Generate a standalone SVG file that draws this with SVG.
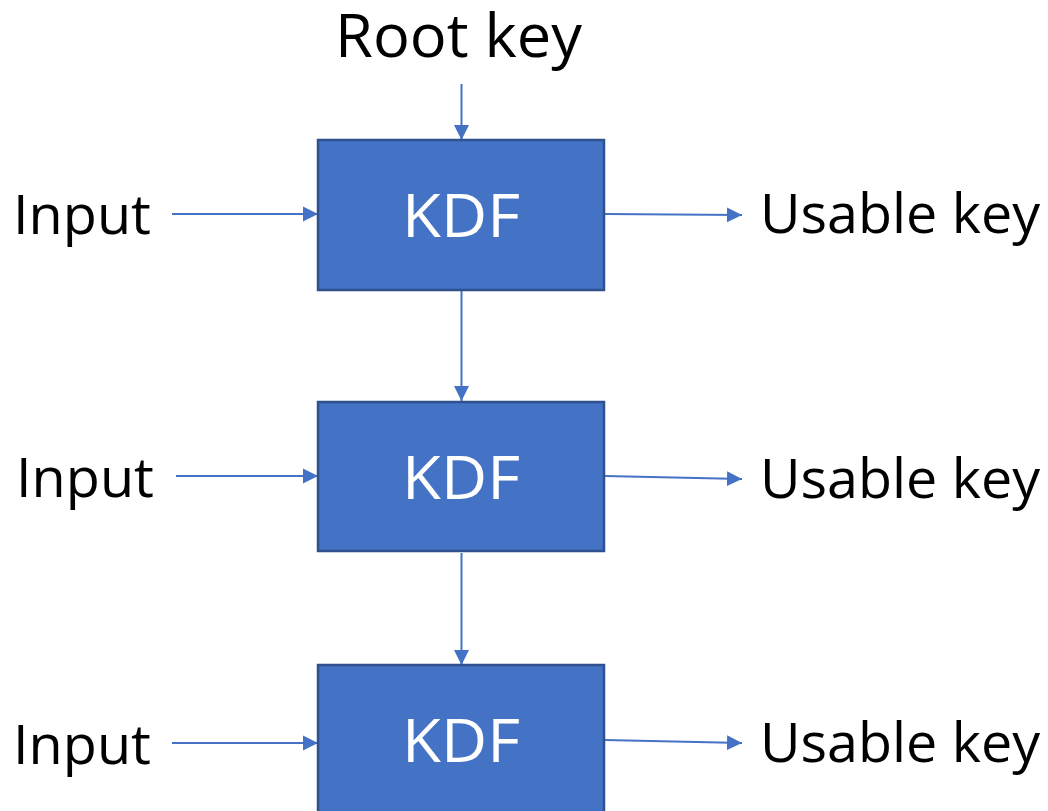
<svg xmlns="http://www.w3.org/2000/svg" width="1048" height="811" viewBox="0 0 1048 811">
<style>
.box{fill:#4472C4;stroke:#2F528F;stroke-width:2.5}
.lbl{font-family:"Open Sans","Liberation Sans",sans-serif;fill:#000}
.kdf{font-family:"Open Sans","Liberation Sans",sans-serif;fill:#fff;font-size:61px}
.conn{stroke:#4472C4;stroke-width:2;fill:none;marker-end:url(#ah)}
</style>
<defs>
<marker id="ah" markerUnits="userSpaceOnUse" markerWidth="16" markerHeight="16" refX="15" refY="8" orient="auto">
<path d="M0,0.5 L15,8 L0,15.5 Z" fill="#4472C4"/>
</marker>
</defs>
<rect width="1048" height="811" fill="#fff"/>
<g id="connectors">
<line class="conn" x1="461.5" y1="84" x2="461.5" y2="140"/>
<line class="conn" x1="172" y1="214" x2="318" y2="214"/>
<line class="conn" x1="605" y1="214" x2="742" y2="215"/>
<line class="conn" x1="461.5" y1="291" x2="461.5" y2="401"/>
<line class="conn" x1="176" y1="476" x2="318" y2="476"/>
<line class="conn" x1="605" y1="476" x2="742" y2="479"/>
<line class="conn" x1="461.5" y1="553" x2="461.5" y2="665"/>
<line class="conn" x1="172" y1="743" x2="318" y2="743"/>
<line class="conn" x1="605" y1="740" x2="742" y2="743"/>
</g>
<g id="rootkey"><text class="lbl" x="335" y="57" font-size="60" textLength="247" lengthAdjust="spacingAndGlyphs">Root key</text></g>
<g id="kdf1">
<rect class="box" x="318" y="140" width="286" height="150"/>
<text class="kdf" x="402" y="237" textLength="118" lengthAdjust="spacingAndGlyphs">KDF</text>
</g>
<g id="kdf2">
<rect class="box" x="318" y="402" width="286" height="149"/>
<text class="kdf" x="402" y="499" textLength="118" lengthAdjust="spacingAndGlyphs">KDF</text>
</g>
<g id="kdf3">
<rect class="box" x="318" y="665" width="286" height="150"/>
<text class="kdf" x="402" y="762" textLength="118" lengthAdjust="spacingAndGlyphs">KDF</text>
</g>
<g id="input1"><text class="lbl" x="13" y="234" font-size="55" textLength="138" lengthAdjust="spacingAndGlyphs">Input</text></g>
<g id="input2"><text class="lbl" x="16" y="497" font-size="55" textLength="138" lengthAdjust="spacingAndGlyphs">Input</text></g>
<g id="input3"><text class="lbl" x="13" y="764" font-size="55" textLength="138" lengthAdjust="spacingAndGlyphs">Input</text></g>
<g id="usable1"><text class="lbl" x="760" y="233" font-size="54" textLength="280" lengthAdjust="spacingAndGlyphs">Usable key</text></g>
<g id="usable2"><text class="lbl" x="760" y="498" font-size="54" textLength="280" lengthAdjust="spacingAndGlyphs">Usable key</text></g>
<g id="usable3"><text class="lbl" x="760" y="762" font-size="54" textLength="280" lengthAdjust="spacingAndGlyphs">Usable key</text></g>
</svg>
